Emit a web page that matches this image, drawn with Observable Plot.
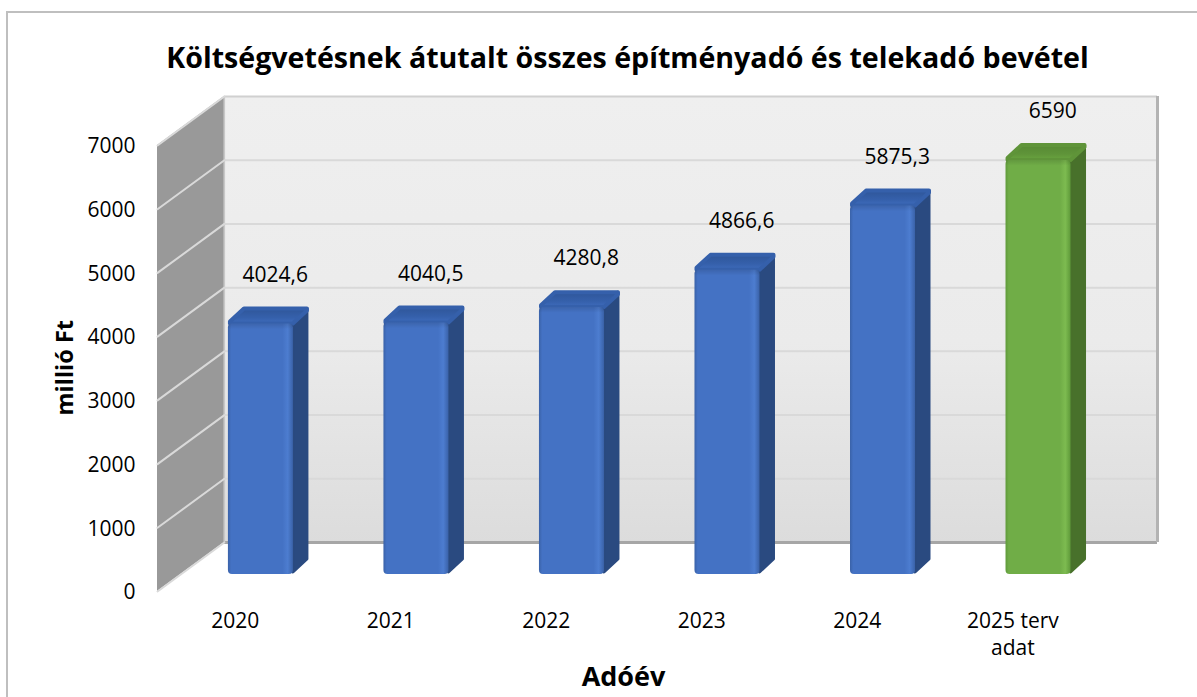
<!DOCTYPE html>
<html><head><meta charset="utf-8">
<script src="https://cdn.jsdelivr.net/npm/d3@7"></script>
<script src="https://cdn.jsdelivr.net/npm/@observablehq/plot@0.6"></script>
<style>
html,body{margin:0;padding:0;background:#fff;overflow:hidden}
#wrap{position:relative;width:1197px;height:697px}
#edge{position:absolute;left:6px;top:11px;width:1191px;height:686px;border-left:2px solid #bfbfbf;border-top:2px solid #bfbfbf;box-sizing:border-box}
svg{position:absolute;left:0;top:0;font-family:"Open Sans"}
</style></head><body><div id="wrap"><div id="edge"></div></div>
<script>
const years = ["2020","2021","2022","2023","2024","2025 terv\nadat"];
const values = [4024.6,4040.5,4280.8,4866.6,5875.3,6590];
const valueLabels = ["4024,6","4040,5","4280,8","4866,6","5875,3","6590"];
const yTicks = [0,1000,2000,3000,4000,5000,6000,7000];
const faceColors = ["blue","blue","blue","blue","blue","green"];
const sideColors = {blue:"#2a4a80",green:"#48712b"};
// wall depth in axis units
const wallX = 0.43, wallY = 769;
// bar placement in axis units
const barLeft = 0.456, barW = 0.418, barDX = 0.103, barDY = 235, barTopDY = 265, barBase = 267, barLift = 175;
const insX = 0.013, insY = 31, capH = 90;

const rows = years.map((y,i)=>({i, year:y, v:values[i], color:faceColors[i],
  x1:i+barLeft, x2:i+barLeft+barW, y1:barBase, y2:values[i]+barLift}));
const sideFace = rows.flatMap(r=>[
  {k:r.i,c:r.color,x:r.x2,y1:r.y1+insY,y2:r.y2+insY},
  {k:r.i,c:r.color,x:r.x2+barDX-insX,y1:r.y1+barDY,y2:r.y2+barTopDY-insY}]);
const topFace = rows.flatMap(r=>[
  {k:r.i,c:r.color,x:r.x1+insX,y1:r.y2,y2:r.y2+insY},
  {k:r.i,c:r.color,x:r.x1+barDX,y1:r.y2,y2:r.y2+barTopDY-insY},
  {k:r.i,c:r.color,x:r.x2,y1:r.y2,y2:r.y2+barTopDY-insY},
  {k:r.i,c:r.color,x:r.x2+barDX-insX,y1:r.y2+barTopDY-insY*2,y2:r.y2+barTopDY-insY}]);
const leftWall = [{x:0,y1:0,y2:7000},{x:wallX,y1:wallY,y2:7000+wallY}];
const wallGrid = yTicks.flatMap(t=>[{t,x:0,y:t},{t,x:wallX,y:t+wallY}]);

const defs = () => {
  const s = d3.create("svg:defs");
  const lg = (id,stops,h)=>{
    const g = s.append("linearGradient").attr("id",id).attr("x1",0).attr("y1",0).attr("x2",h?1:0).attr("y2",h?0:1);
    stops.forEach(([o,c,a])=>g.append("stop").attr("offset",o).attr("stop-color",c).attr("stop-opacity",a===undefined?1:a));
  };
  lg("wall",[[0,"#efefef"],[0.55,"#ebebeb"],[1,"#dcdcdc"]],false);
  lg("blue",[[0,"#3a62a8"],[0.05,"#4472c4"],[0.84,"#4472c4"],[0.92,"#4d7dd0"],[1,"#3a62a8"]],true);
  lg("green",[[0,"#5f9a3a"],[0.05,"#70ad47"],[0.84,"#70ad47"],[0.92,"#7dbb50"],[1,"#5f9a3a"]],true);
  lg("topblue",[[0,"#2f5699"],[0.6,"#3560ab"],[1,"#3f6cbc"]],false);
  lg("topgreen",[[0,"#578a34"],[0.6,"#5f9439"],[1,"#6aa540"]],false);
  lg("cap",[[0,"#000",0.12],[1,"#000",0]],false);
  return s.node();
};

const plot = Plot.plot({
  width:1197, height:697,
  marginLeft:157, marginRight:40, marginTop:96, marginBottom:106,
  style:{background:"transparent",fontFamily:"Open Sans",color:"#000"},
  x:{domain:[0,6+wallX],axis:null},
  y:{domain:[0,7000+wallY],axis:null},
  marks:[
    defs,
    // back wall
    Plot.rect([0],{x1:wallX,x2:6+wallX,y1:wallY,y2:7000+wallY,fill:"url(#wall)"}),
    Plot.ruleY(yTicks.slice(1,-1),{x1:wallX,x2:6+wallX,y:d=>d+wallY,stroke:"#d9d9d9",strokeWidth:2}),
    Plot.ruleY([7000],{x1:wallX,x2:6+wallX,y:d=>d+wallY,stroke:"#d0d0d0",strokeWidth:2}),
    Plot.ruleY([0],{x1:wallX,x2:6+wallX,y:d=>d+wallY,stroke:"#a6a6a6",strokeWidth:3}),
    Plot.ruleX([6+wallX],{y1:wallY,y2:7000+wallY,stroke:"#b3b3b3",strokeWidth:3}),
    // left wall
    Plot.area(leftWall,{x1:"x",y1:"y1",y2:"y2",fill:"#999999"}),
    Plot.ruleX([wallX],{y1:wallY,y2:7000+wallY,stroke:"#c8c8c8",strokeWidth:1.5}),
    Plot.line(wallGrid,{x:"x",y:"y",z:"t",stroke:"#d9d9d9",strokeWidth:2}),
    // bars
    Plot.area(sideFace,{x1:"x",y1:"y1",y2:"y2",z:"k",fill:d=>sideColors[d.c],stroke:d=>sideColors[d.c],strokeWidth:3,strokeLinejoin:"round"}),
    Plot.area(topFace,{x1:"x",y1:"y1",y2:"y2",z:"k",fill:d=>`url(#top${d.c})`,stroke:d=>d.c==="blue"?"#3560ab":"#5f9439",strokeWidth:4,strokeLinejoin:"round"}),
    Plot.rect(rows,{x1:"x1",x2:"x2",y1:"y1",y2:"y2",rx:4,fill:d=>`url(#${d.color})`}),
    Plot.rect(rows,{x1:"x1",x2:"x2",y1:d=>d.y2-capH,y2:"y2",rx:4,fill:"url(#cap)"}),
    // value labels
    Plot.text(rows,{x:d=>d.i+0.757,y:d=>d.v+barLift,text:d=>valueLabels[d.i],dy:-49,fontSize:21,fill:"#000"}),
    // axes
    Plot.axisX(years.map((_,i)=>i+0.5),{anchor:"bottom",tickSize:0,tickPadding:17,lineAnchor:"top",lineHeight:1.3,fontSize:21,label:null,
      tickFormat:d=>years[d-0.5],fill:"#000"}),
    Plot.axisY(yTicks,{anchor:"left",tickSize:0,tickPadding:22,dy:1,fontSize:21,label:null,tickFormat:d=>String(d),fill:"#000"}),
    // titles
    Plot.text(["Költségvetésnek átutalt összes építményadó és telekadó bevétel"],{frameAnchor:"top",dx:-30,dy:-49,fontSize:28.6,fontWeight:700,fill:"#000"}),
    Plot.text(["Adóév"],{frameAnchor:"bottom",dx:-34,dy:94,fontSize:27,fontWeight:700,fill:"#000"}),
    Plot.text(["millió Ft"],{frameAnchor:"left",dx:-92,dy:71.5,rotate:-90,fontSize:23.5,fontWeight:700,fill:"#000"})
  ]
});
document.getElementById("wrap").appendChild(plot);
</script></body></html>
